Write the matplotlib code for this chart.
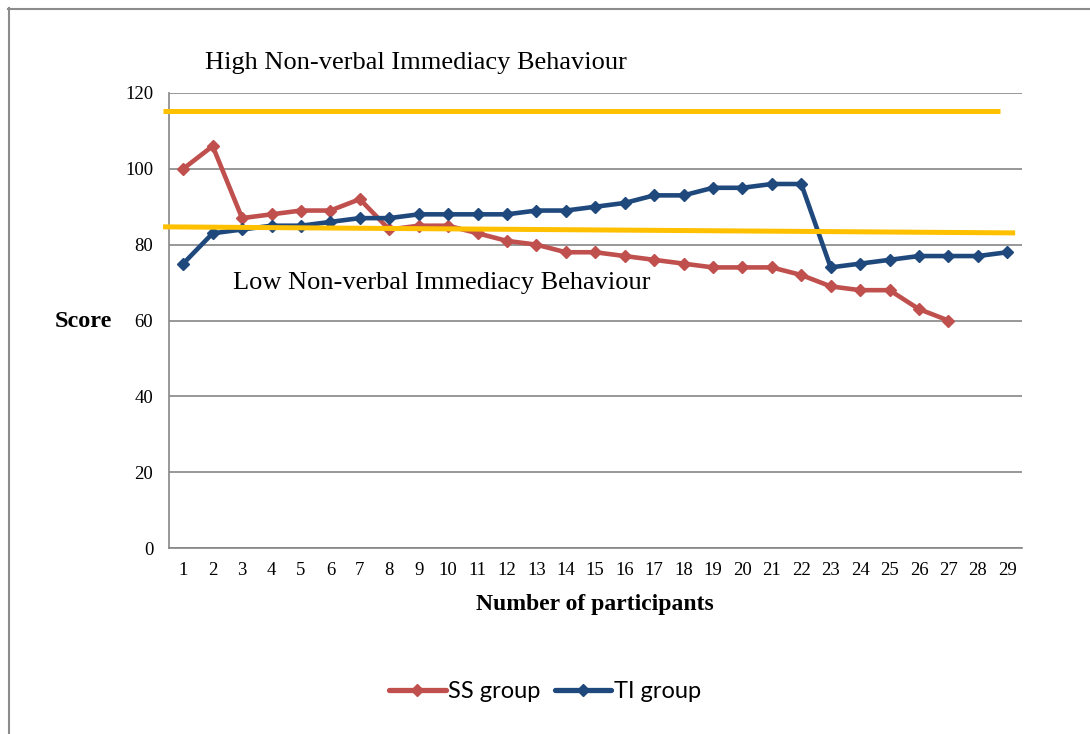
import matplotlib
matplotlib.use("Agg")
import matplotlib.pyplot as plt
from matplotlib.lines import Line2D

participants = list(range(1, 30))
ss_group = [100, 106, 87, 88, 89, 89, 92, 84, 85, 85, 83, 81, 80, 78, 78,
            77, 76, 75, 74, 74, 74, 72, 69, 68, 68, 63, 60]
ti_group = [75, 83, 84, 85, 85, 86, 87, 87, 88, 88, 88, 88, 89, 89, 90,
            91, 93, 93, 95, 95, 96, 96, 74, 75, 76, 77, 77, 77, 78]
high_line = [115.3, 115.3]
low_line = [84.7, 83.1]
y_ticks = [0, 20, 40, 60, 80, 100, 120]

SS_COLOR = "#C0504D"
TI_COLOR = "#1F497D"
YELLOW = "#FFC000"
GRID = "#868686"
serif = ["Liberation Serif", "DejaVu Serif"]

fig = plt.figure(figsize=(10.9, 7.34), dpi=100)
ax = fig.add_axes([0.1546, 0.2534, 0.9376 - 0.1546, 0.8733 - 0.2534])

ax.plot(participants[:len(ss_group)], ss_group, color=SS_COLOR, lw=3.3,
        marker="D", ms=6.5, mec=SS_COLOR, mfc=SS_COLOR, solid_joinstyle="round", zorder=3)
ax.plot(participants, ti_group, color=TI_COLOR, lw=3.3,
        marker="D", ms=6.5, mec=TI_COLOR, mfc=TI_COLOR, solid_joinstyle="round", zorder=4)

# threshold lines (axes-fraction x, data y)
trans = ax.get_yaxis_transform()
ax.plot([-0.0064, 0.974], high_line, color=YELLOW, lw=3.6, transform=trans,
        clip_on=False, zorder=5, solid_capstyle="butt")
ax.plot([-0.0064, 0.992], low_line, color=YELLOW, lw=3.6, transform=trans,
        clip_on=False, zorder=5, solid_capstyle="butt")

ax.set_xlim(0.5, 29.5)
ax.set_ylim(0, 120)
ax.set_yticks(y_ticks)
ax.set_xticks(participants)
ax.set_xticklabels([str(p) for p in participants], fontfamily=serif, fontsize=13.5)
ax.set_yticklabels([str(v) for v in y_ticks], fontfamily=serif, fontsize=13.5)
ax.tick_params(axis="both", length=0)
ax.tick_params(axis="x", pad=10)
ax.tick_params(axis="y", pad=11)

ax.grid(axis="y", color=GRID, lw=1.2)
ax.set_axisbelow(True)
for s in ["top", "right"]:
    ax.spines[s].set_visible(False)
for s in ["left", "bottom"]:
    ax.spines[s].set_color(GRID)
    ax.spines[s].set_linewidth(1.2)

ax.set_xlabel("Number of participants", fontfamily=serif, fontsize=17,
              fontweight="bold", labelpad=11)
fig.text(83 / 1090, 1 - 321 / 734, "Score", fontfamily=serif, fontsize=17.5,
         fontweight="bold", ha="center", va="center")

fig.text(205 / 1090, 1 - 63 / 734, "High Non-verbal Immediacy Behaviour",
         fontfamily=serif, fontsize=19, ha="left", va="center")
fig.text(233 / 1090, 1 - 283 / 734, "Low Non-verbal Immediacy Behaviour",
         fontfamily=serif, fontsize=19, ha="left", va="center")

handles = [Line2D([0], [0], color=SS_COLOR, lw=3.8, marker="D", ms=6,
                  solid_capstyle="round"),
           Line2D([0], [0], color=TI_COLOR, lw=3.8, marker="D", ms=6,
                  solid_capstyle="round")]
fig.legend(handles, ["SS group", "TI group"], loc="center",
           bbox_to_anchor=(545 / 1090, 1 - 692 / 734), ncol=2, frameon=False,
           prop={"family": ["Lato", "DejaVu Sans"], "size": 17},
           handlelength=2.4, handletextpad=0.1, columnspacing=0.6)

# outer frame (top and left edges)
fig.add_artist(Line2D([8 / 1090, 1.0], [1 - 8.5 / 734] * 2, color="#8C8C8C", lw=1.5,
                      transform=fig.transFigure))
fig.add_artist(Line2D([8.5 / 1090] * 2, [0, 1 - 8 / 734], color="#8C8C8C", lw=1.5,
                      transform=fig.transFigure))

fig.savefig("out.png", dpi=100, facecolor="white")
